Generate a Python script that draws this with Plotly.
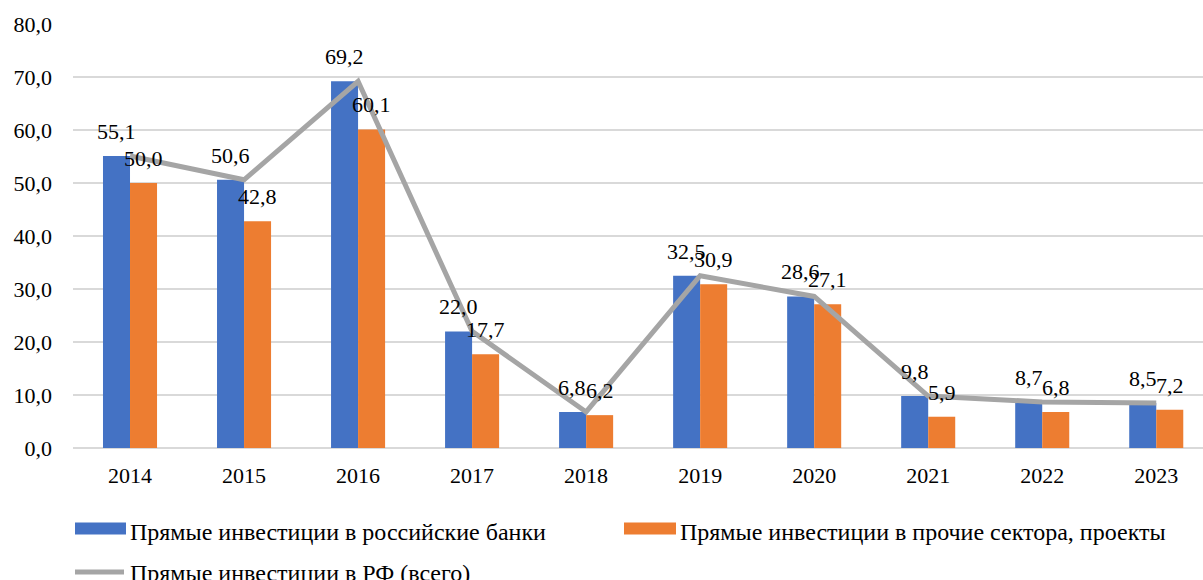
import plotly.graph_objects as go

years = ["2014", "2015", "2016", "2017", "2018", "2019", "2020", "2021", "2022", "2023"]
banks = [55.1, 50.6, 69.2, 22.0, 6.8, 32.5, 28.6, 9.8, 8.7, 8.5]
other = [50.0, 42.8, 60.1, 17.7, 6.2, 30.9, 27.1, 5.9, 6.8, 7.2]
total = [55.1, 50.6, 69.2, 22.0, 6.8, 32.5, 28.6, 9.8, 8.7, 8.5]

name_banks = "Прямые инвестиции в российские банки"
name_other = "Прямые инвестиции в прочие сектора, проекты"
name_total = "Прямые инвестиции в РФ (всего)"

BLUE = "#4472c4"
ORANGE = "#ed7d31"
GREY = "#a5a5a5"
FONT = "Liberation Serif"

W, H = 1203, 580
ML, MR, MT, MB = 73, 0, 24, 132

fig = go.Figure()
fig.add_trace(go.Bar(x=years, y=banks, name=name_banks, marker_color=BLUE,
                     marker_line_width=0))
fig.add_trace(go.Bar(x=years, y=other, name=name_other, marker_color=ORANGE,
                     marker_line_width=0))
fig.add_trace(go.Scatter(x=years, y=total, name=name_total, mode="lines",
                         line=dict(color=GREY, width=5)))

# value labels above each bar
annotations = []
for i, (a, b) in enumerate(zip(banks, other)):
    for off, v in ((-0.12, a), (0.12, b)):
        annotations.append(dict(
            x=i + off, y=v, xref="x", yref="y", text=f"{v:.1f}".replace(".", ","),
            showarrow=False, yanchor="bottom", xanchor="center", yshift=10,
            font=dict(family=FONT, size=22, color="#000000")))

# legend drawn below the plot
plot_w = W - ML - MR
plot_h = H - MT - MB


def px(xp):
    return (xp - ML) / plot_w


def py(yp):
    return (H - MB - yp) / plot_h


shapes = []
# (label, colour, kind, swatch left, swatch right, swatch centre y, text left, text centre y)
legend_rows = [
    (name_banks, BLUE, "bar", 75, 126, 528.5, 128, 532),
    (name_other, ORANGE, "bar", 624, 676, 528.5, 678, 532),
    (name_total, GREY, "line", 73, 126, 572, 128, 573),
]
for name, color, kind, x0, x1, ys, xt, yt in legend_rows:
    if kind == "bar":
        shapes.append(dict(type="rect", xref="paper", yref="paper",
                           x0=px(x0), x1=px(x1), y0=py(ys + 6), y1=py(ys - 6),
                           fillcolor=color, line_width=0))
    else:
        shapes.append(dict(type="line", xref="paper", yref="paper",
                           x0=px(x0 + 2), x1=px(x1 - 2), y0=py(ys), y1=py(ys),
                           line=dict(color=color, width=5)))
    annotations.append(dict(
        x=px(xt), y=py(yt), xref="paper", yref="paper", text=name,
        showarrow=False, xanchor="left", yanchor="middle",
        font=dict(family=FONT, size=24, color="#000000")))

fig.update_layout(
    width=W, height=H,
    margin=dict(l=ML, r=MR, t=MT, b=MB, pad=0),
    paper_bgcolor="white", plot_bgcolor="white",
    barmode="group", bargap=0.526, bargroupgap=0,
    showlegend=False,
    separators=", ",
    font=dict(family=FONT, size=22, color="#000000"),
    annotations=annotations,
    shapes=shapes,
)
fig.update_xaxes(type="category", range=[-0.5, 9.41], showgrid=False,
                 showline=False, ticks="", ticklabelstandoff=12,
                 tickfont=dict(family=FONT, size=22, color="#000000"))
fig.update_yaxes(range=[0, 80], dtick=10, tickformat=".1f", showgrid=True,
                 gridcolor="#d9d9d9", gridwidth=2, zeroline=True,
                 zerolinecolor="#d9d9d9", zerolinewidth=2, showline=False,
                 ticks="", ticklabelstandoff=20,
                 tickfont=dict(family=FONT, size=22, color="#000000"))

fig.write_html("out.html")
